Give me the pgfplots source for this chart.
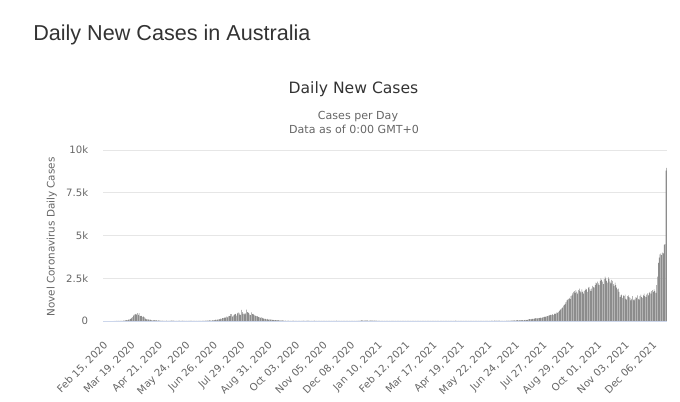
\documentclass[border=0pt]{standalone}
\usepackage{fontspec}
\setmainfont{DejaVu Sans}
\newfontfamily\titlefont{Liberation Sans}
\usepackage{pgfplots}
\usepackage{pgfplotstable}
\pgfplotsset{compat=1.18}

\definecolor{txtdark}{HTML}{333333}
\definecolor{txtgray}{HTML}{666666}
\definecolor{gridc}{HTML}{E6E6E6}
\definecolor{axisc}{HTML}{CCD6EB}
\definecolor{barc}{HTML}{8C8C8C}

% daily new cases, one row per day from Feb 15, 2020
\pgfplotstableread[row sep=\\]{
cases\\
0\\ 0\\ 0\\ 0\\ 0\\ 0\\ 0\\ 0\\ 0\\ 0\\ 0\\ 0\\ 0\\ 2\\ 0\\
2\\ 8\\ 6\\ 12\\ 8\\ 7\\ 10\\ 14\\ 15\\ 20\\ 27\\ 30\\ 44\\ 50\\ 52\\ 80\\ 78\\ 116\\ 146\\ 186\\ 227\\ 316\\ 374\\ 390\\ 414\\ 372\\ 460\\ 360\\ 459\\ 294\\ 289\\
300\\ 236\\ 278\\ 234\\ 178\\ 117\\ 90\\ 99\\ 100\\ 73\\ 93\\ 49\\ 44\\ 40\\ 33\\ 46\\ 39\\ 50\\ 40\\ 25\\ 38\\ 20\\ 22\\ 19\\ 11\\ 16\\ 14\\ 12\\ 15\\ 13\\
17\\ 9\\ 12\\ 8\\ 10\\ 18\\ 18\\ 22\\ 20\\ 15\\ 7\\ 12\\ 13\\ 15\\ 10\\ 18\\ 11\\ 5\\ 12\\ 19\\ 9\\ 10\\ 8\\ 7\\ 10\\ 12\\ 10\\ 12\\ 14\\ 16\\ 12\\
6\\ 9\\ 8\\ 5\\ 12\\ 7\\ 3\\ 10\\ 7\\ 9\\ 8\\ 10\\ 15\\ 18\\ 13\\ 10\\ 20\\ 23\\ 19\\ 25\\ 30\\ 35\\ 22\\ 27\\ 31\\ 48\\ 38\\ 45\\ 85\\ 64\\
75\\ 82\\ 108\\ 95\\ 140\\ 130\\ 175\\ 168\\ 180\\ 220\\ 195\\ 260\\ 213\\ 275\\ 300\\ 290\\ 400\\ 398\\ 250\\ 320\\ 360\\ 410\\ 415\\ 320\\ 450\\ 500\\ 470\\ 380\\ 360\\ 650\\ 520\\
420\\ 450\\ 390\\ 450\\ 660\\ 520\\ 500\\ 460\\ 380\\ 350\\ 500\\ 410\\ 420\\ 380\\ 330\\ 300\\ 290\\ 290\\ 240\\ 230\\ 220\\ 180\\ 220\\ 190\\ 160\\ 140\\ 120\\ 130\\ 90\\ 120\\ 85\\
75\\ 90\\ 80\\ 85\\ 65\\ 60\\ 45\\ 50\\ 55\\ 45\\ 40\\ 50\\ 40\\ 35\\ 28\\ 40\\ 30\\ 25\\ 18\\ 12\\ 16\\ 10\\ 14\\ 24\\ 14\\ 15\\ 11\\ 13\\ 15\\ 16\\
15\\ 12\\ 9\\ 8\\ 10\\ 14\\ 12\\ 15\\ 14\\ 10\\ 12\\ 18\\ 8\\ 9\\ 13\\ 12\\ 16\\ 20\\ 9\\ 11\\ 8\\ 14\\ 12\\ 7\\ 8\\ 17\\ 12\\ 8\\ 10\\ 9\\ 6\\
6\\ 7\\ 8\\ 12\\ 9\\ 5\\ 7\\ 9\\ 10\\ 6\\ 5\\ 8\\ 11\\ 4\\ 8\\ 10\\ 13\\ 15\\ 9\\ 12\\ 18\\ 6\\ 8\\ 10\\ 9\\ 7\\ 6\\ 11\\ 9\\ 10\\
8\\ 10\\ 9\\ 8\\ 12\\ 6\\ 9\\ 10\\ 12\\ 9\\ 7\\ 8\\ 11\\ 14\\ 10\\ 9\\ 14\\ 17\\ 9\\ 25\\ 30\\ 40\\ 23\\ 18\\ 20\\ 30\\ 25\\ 32\\ 19\\ 14\\ 21\\
35\\ 27\\ 22\\ 18\\ 20\\ 24\\ 18\\ 26\\ 15\\ 12\\ 16\\ 10\\ 12\\ 9\\ 10\\ 8\\ 6\\ 9\\ 12\\ 8\\ 7\\ 9\\ 10\\ 6\\ 8\\ 5\\ 7\\ 4\\ 6\\ 3\\ 9\\
8\\ 7\\ 6\\ 10\\ 12\\ 9\\ 7\\ 5\\ 8\\ 6\\ 4\\ 10\\ 12\\ 8\\ 7\\ 5\\ 9\\ 6\\ 4\\ 8\\ 6\\ 7\\ 5\\ 4\\ 9\\ 6\\ 8\\ 7\\
6\\ 8\\ 9\\ 7\\ 12\\ 10\\ 8\\ 6\\ 12\\ 9\\ 10\\ 8\\ 7\\ 11\\ 9\\ 14\\ 12\\ 10\\ 8\\ 12\\ 15\\ 13\\ 9\\ 11\\ 8\\ 14\\ 10\\ 9\\ 12\\ 10\\ 8\\
9\\ 10\\ 12\\ 8\\ 14\\ 11\\ 9\\ 13\\ 10\\ 8\\ 12\\ 15\\ 18\\ 11\\ 9\\ 14\\ 10\\ 8\\ 12\\ 9\\ 11\\ 14\\ 10\\ 8\\ 12\\ 13\\ 9\\ 15\\ 10\\ 12\\
11\\ 9\\ 12\\ 8\\ 10\\ 14\\ 13\\ 9\\ 7\\ 11\\ 10\\ 8\\ 12\\ 14\\ 9\\ 12\\ 8\\ 10\\ 15\\ 9\\ 11\\ 13\\ 10\\ 8\\ 12\\ 14\\ 18\\ 15\\ 12\\ 16\\ 20\\
14\\ 18\\ 12\\ 16\\ 20\\ 15\\ 11\\ 14\\ 13\\ 10\\ 12\\ 9\\ 14\\ 16\\ 11\\ 18\\ 15\\ 20\\ 22\\ 18\\ 25\\ 32\\ 30\\ 28\\ 35\\ 40\\ 45\\ 38\\ 42\\ 50\\
45\\ 38\\ 55\\ 42\\ 50\\ 60\\ 48\\ 70\\ 65\\ 90\\ 110\\ 115\\ 95\\ 120\\ 130\\ 118\\ 140\\ 155\\ 170\\ 160\\ 150\\ 165\\ 175\\ 200\\ 180\\ 190\\ 210\\ 230\\ 240\\ 260\\ 245\\
280\\ 290\\ 310\\ 330\\ 350\\ 380\\ 340\\ 400\\ 350\\ 430\\ 400\\ 450\\ 500\\ 480\\ 540\\ 600\\ 650\\ 700\\ 750\\ 800\\ 900\\ 950\\ 1000\\ 1100\\ 1200\\ 1250\\ 1300\\ 1350\\ 1280\\ 1450\\ 1500\\
1620\\ 1700\\ 1750\\ 1650\\ 1800\\ 1700\\ 1600\\ 1810\\ 1900\\ 1750\\ 1680\\ 1850\\ 1700\\ 1600\\ 1750\\ 1800\\ 1900\\ 1850\\ 1700\\ 1950\\ 2000\\ 1850\\ 1750\\ 1900\\ 2050\\ 2000\\ 1950\\ 2100\\ 2250\\ 2200\\
2300\\ 2200\\ 2100\\ 2350\\ 2500\\ 2400\\ 2300\\ 2150\\ 2450\\ 2600\\ 2500\\ 2350\\ 2250\\ 2550\\ 2450\\ 2300\\ 2200\\ 2400\\ 2350\\ 2150\\ 2050\\ 2250\\ 2100\\ 1950\\ 1850\\ 1900\\ 1700\\ 1400\\ 1500\\ 1550\\ 1350\\
1500\\ 1450\\ 1550\\ 1300\\ 1250\\ 1450\\ 1500\\ 1400\\ 1350\\ 1200\\ 1300\\ 1450\\ 1250\\ 1200\\ 1300\\ 1400\\ 1350\\ 1500\\ 1300\\ 1250\\ 1450\\ 1550\\ 1400\\ 1350\\ 1500\\ 1600\\ 1450\\ 1400\\ 1550\\ 1620\\
1500\\ 1650\\ 1700\\ 1600\\ 1750\\ 1800\\ 1700\\ 1850\\ 1750\\ 1650\\ 2100\\ 2600\\ 3400\\ 3700\\ 3900\\ 3950\\ 3850\\ 4000\\ 3950\\ 4450\\ 4500\\ 8800\\ 8950\\
}\daily

\begin{document}
\begin{tikzpicture}
\path[use as bounding box] (0,0) rectangle (510pt,-300.75pt);

\node[anchor=base west, inner sep=0, text=txtdark,
      font=\titlefont\fontsize{16.2pt}{19pt}\selectfont]
  at (24.75pt,-30.5pt) {Daily New Cases in Australia};
\node[anchor=base, inner sep=0, text=txtdark,
      font=\fontsize{11.7pt}{14pt}\selectfont]
  at (265.1pt,-70pt) {Daily New Cases};
\node[anchor=base, inner sep=0, text=txtgray,
      font=\fontsize{8.3pt}{10pt}\selectfont]
  at (268.5pt,-89.5pt) {Cases per Day};
\node[anchor=base, inner sep=0, text=txtgray,
      font=\fontsize{8.3pt}{10pt}\selectfont]
  at (265.5pt,-100.2pt) {Data as of 0:00 GMT+0};
\node[rotate=90, inner sep=0, text=txtgray,
      font=\fontsize{7.8pt}{9pt}\selectfont]
  at (38.8pt,-177.75pt) {Novel Coronavirus Daily Cases};

\begin{axis}[
  at={(77.25pt,-240.75pt)}, anchor=south west,
  scale only axis, width=423pt, height=128.25pt,
  xmin=-0.5, xmax=677.5, ymin=0, ymax=10000,
  ybar, bar width=0.6,
  axis line style={draw=none},
  ymajorgrids, grid style={gridc, line width=0.75pt},
  tick style={draw=none},
  scaled y ticks=false,
  ytick={0,2500,5000,7500,10000},
  yticklabels={0,2.5k,5k,7.5k,10k},
  xtick={0,33,...,660},
  xticklabels={{Feb 15, 2020},{Mar 19, 2020},{Apr 21, 2020},{May 24, 2020},
    {Jun 26, 2020},{Jul 29, 2020},{Aug 31, 2020},{Oct 03, 2020},{Nov 05, 2020},
    {Dec 08, 2020},{Jan 10, 2021},{Feb 12, 2021},{Mar 17, 2021},{Apr 19, 2021},
    {May 22, 2021},{Jun 24, 2021},{Jul 27, 2021},{Aug 29, 2021},{Oct 01, 2021},
    {Nov 03, 2021},{Dec 06, 2021}},
  ticklabel style={font=\fontsize{7.6pt}{9pt}\selectfont, text=txtgray},
  xticklabel style={anchor=north east, inner sep=1pt, xshift=-0.5pt, yshift=-8.8pt, rotate=45},
  yticklabel style={anchor=east, xshift=-7.6pt},
]
\addplot[fill=barc, draw=none] table[x expr=\coordindex, y=cases] {\daily};
\draw[axisc, line width=0.75pt] (rel axis cs:0,0) -- (rel axis cs:1,0);
\end{axis}
\end{tikzpicture}
\end{document}
